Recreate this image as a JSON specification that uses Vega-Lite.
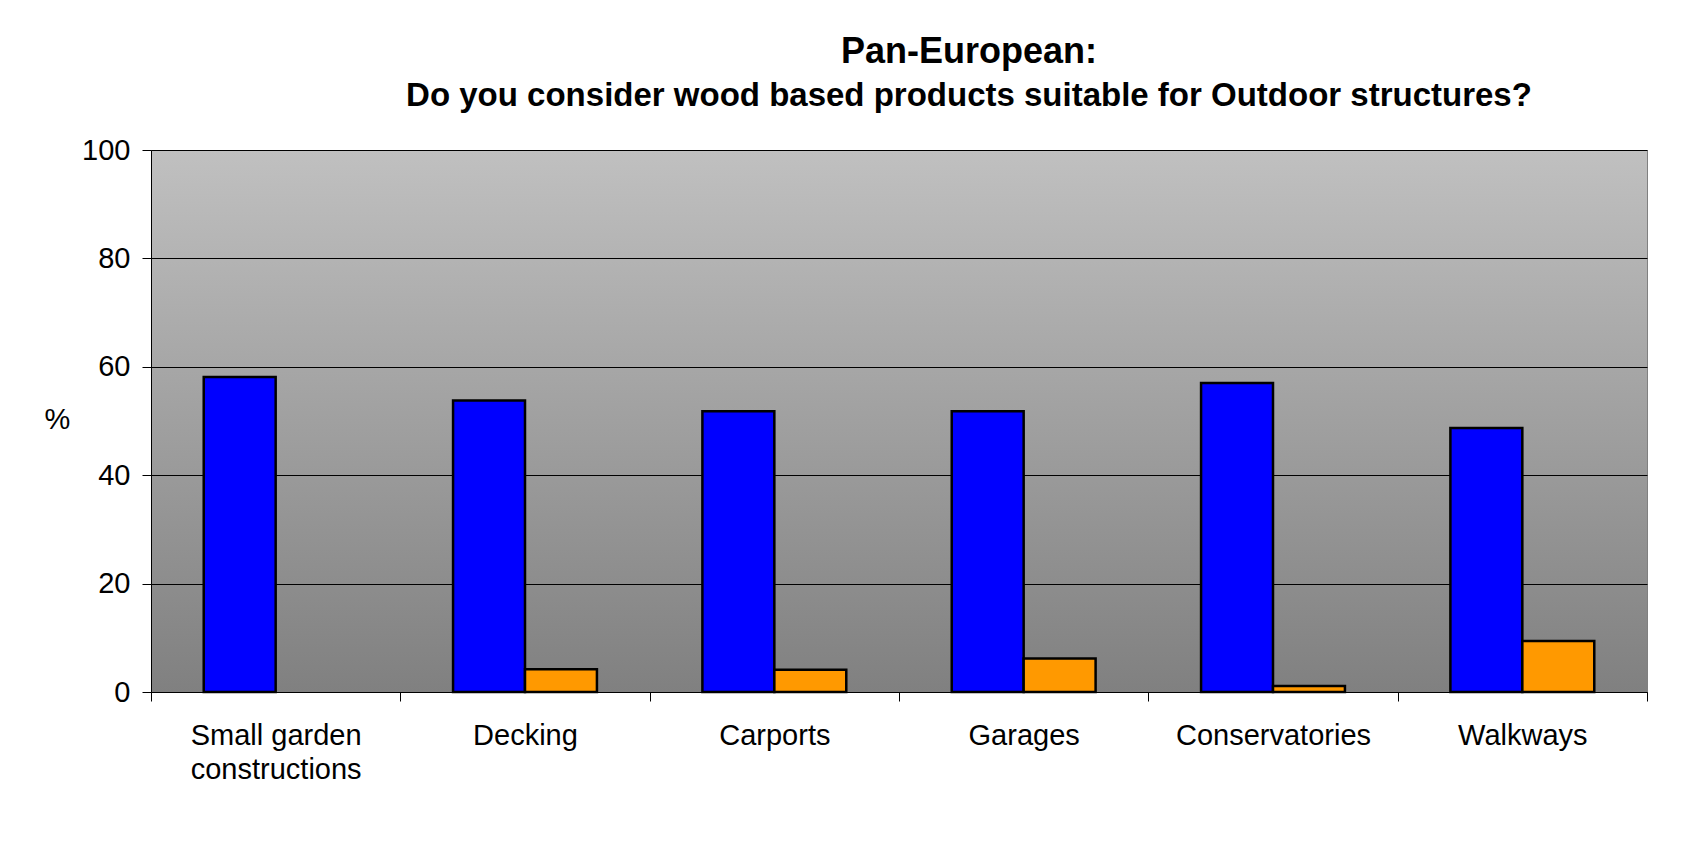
{
  "$schema": "https://vega.github.io/schema/vega-lite/v6.json",
  "autosize": {"type": "none"},
  "width": 1496,
  "height": 542,
  "padding": {"left": 151, "top": 150, "right": 39, "bottom": 174},
  "background": "white",
  "title": {
    "text": "Pan-European:",
    "subtitle": "Do you consider wood based products suitable for Outdoor structures?",
    "anchor": "middle",
    "frame": "group",
    "dx": 70,
    "font": "Liberation Sans",
    "fontSize": 36,
    "fontWeight": "bold",
    "color": "black",
    "subtitleFont": "Liberation Sans",
    "subtitleFontSize": 33,
    "subtitleFontWeight": "bold",
    "subtitleColor": "black",
    "subtitlePadding": 9,
    "offset": 22
  },
  "data": {
    "values": [
      {"category": "Small garden constructions", "answer": "Yes", "percent": 58.1},
      {"category": "Decking", "answer": "Yes", "percent": 53.8},
      {"category": "Decking", "answer": "No", "percent": 4.2},
      {"category": "Carports", "answer": "Yes", "percent": 51.8},
      {"category": "Carports", "answer": "No", "percent": 4.1},
      {"category": "Garages", "answer": "Yes", "percent": 51.8},
      {"category": "Garages", "answer": "No", "percent": 6.2},
      {"category": "Conservatories", "answer": "Yes", "percent": 57.0},
      {"category": "Conservatories", "answer": "No", "percent": 1.1},
      {"category": "Walkways", "answer": "Yes", "percent": 48.7},
      {"category": "Walkways", "answer": "No", "percent": 9.4}
    ]
  },
  "mark": {"type": "bar", "stroke": "black", "strokeWidth": 2.5},
  "encoding": {
    "x": {
      "field": "category",
      "type": "nominal",
      "sort": ["Small garden constructions", "Decking", "Carports", "Garages", "Conservatories", "Walkways"],
      "scale": {"paddingInner": 0, "paddingOuter": 0},
      "axis": {
        "title": null,
        "labelAngle": 0,
        "labelLimit": 0,
        "tickBand": "extent",
        "tickSize": 9,
        "tickColor": "black",
        "domainColor": "black",
        "labelFont": "Liberation Sans",
        "labelFontSize": 29,
        "labelColor": "black",
        "labelPadding": 20,
        "labelLineHeight": 34,
        "labelBaseline": "top",
        "labelExpr": "datum.label == 'Small garden constructions' ? ['Small garden', 'constructions'] : datum.label"
      }
    },
    "xOffset": {
      "field": "answer",
      "type": "nominal",
      "scale": {"domain": ["Yes", "No"], "paddingInner": 0, "paddingOuter": 0.733}
    },
    "y": {
      "field": "percent",
      "type": "quantitative",
      "scale": {"domain": [0, 100], "nice": false},
      "axis": {
        "title": "%",
        "titleAngle": 0,
        "titleX": -94,
        "titleY": 269,
        "titleAlign": "center",
        "titleBaseline": "middle",
        "titleFont": "Liberation Sans",
        "titleFontSize": 29,
        "titleFontWeight": "normal",
        "titleColor": "black",
        "values": [0, 20, 40, 60, 80, 100],
        "tickSize": 9,
        "tickColor": "black",
        "domainColor": "black",
        "grid": true,
        "gridColor": "black",
        "gridOpacity": 1,
        "gridWidth": 1,
        "labelFont": "Liberation Sans",
        "labelFontSize": 29,
        "labelColor": "black",
        "labelPadding": 12
      }
    },
    "color": {
      "field": "answer",
      "type": "nominal",
      "scale": {"domain": ["Yes", "No"], "range": ["#0000ff", "#ff9900"]},
      "legend": null
    }
  },
  "config": {
    "view": {
      "stroke": "#808080",
      "strokeWidth": 1,
      "fill": {
        "gradient": "linear",
        "x1": 0, "y1": 0, "x2": 0, "y2": 1,
        "stops": [
          {"offset": 0, "color": "#c0c0c0"},
          {"offset": 1, "color": "#808080"}
        ]
      }
    }
  }
}
